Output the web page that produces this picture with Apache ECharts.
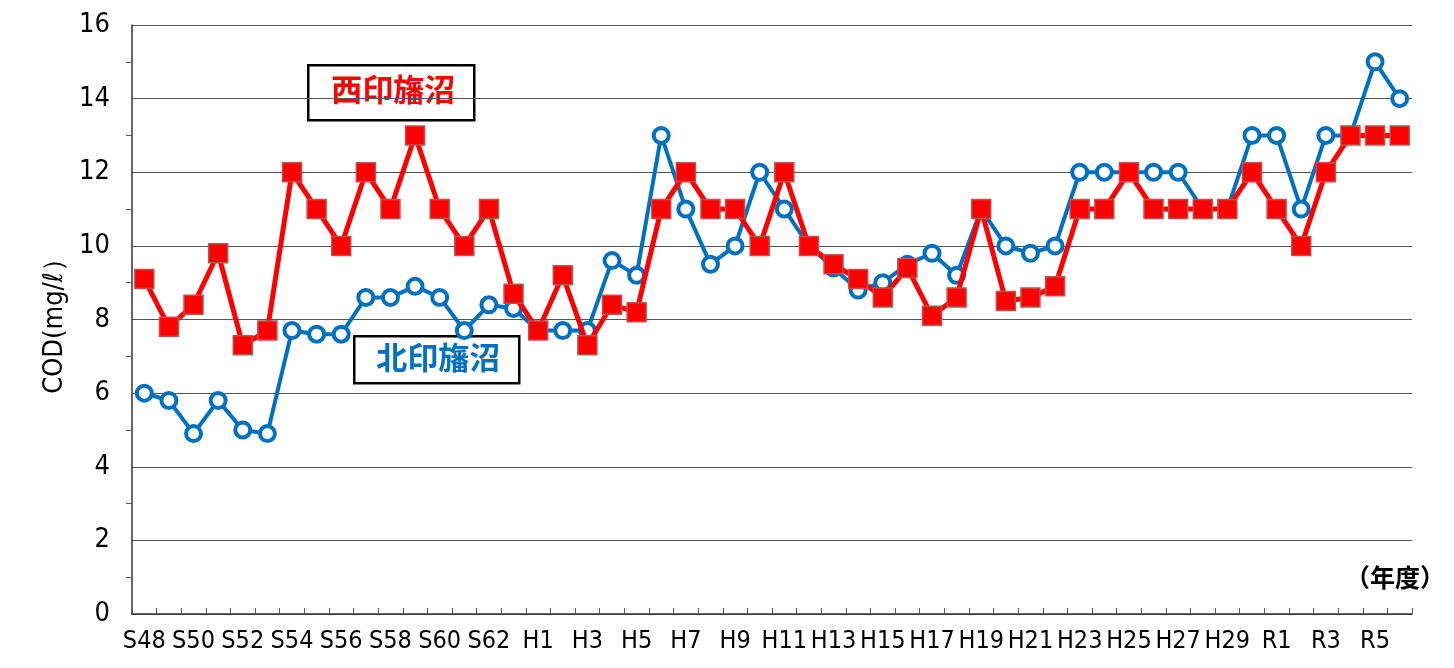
<!DOCTYPE html>
<html>
<head>
<meta charset="utf-8">
<script src="https://cdn.jsdelivr.net/npm/echarts@6/dist/echarts.min.js"></script>
<style>
html, body { margin: 0; padding: 0; background: #fff; }
#main { width: 1454px; height: 668px; }
</style>
</head>
<body>
<div id="main"></div>
<script>
var years = ['S48','S49','S50','S51','S52','S53','S54','S55','S56','S57','S58','S59','S60','S61','S62','S63',
    'H1','H2','H3','H4','H5','H6','H7','H8','H9','H10','H11','H12','H13','H14','H15','H16','H17','H18','H19','H20',
    'H21','H22','H23','H24','H25','H26','H27','H28','H29','H30','R1','R2','R3','R4','R5','R6']
// 西印旛沼
var nishiData = [9.1, 7.8, 8.4, 9.8, 7.3, 7.7, 12, 11, 10, 12, 11, 13, 11, 10, 11, 8.7,
    7.7, 9.2, 7.3, 8.4, 8.2, 11, 12, 11, 11, 10, 12, 10, 9.5, 9.1, 8.6, 9.4, 8.1, 8.6, 11, 8.5,
    8.6, 8.9, 11, 11, 12, 11, 11, 11, 11, 12, 11, 10, 12, 13, 13, 13]
// 北印旛沼
var kitaData = [6.0, 5.8, 4.9, 5.8, 5.0, 4.9, 7.7, 7.6, 7.6, 8.6, 8.6, 8.9, 8.6, 7.7, 8.4, 8.3,
    7.7, 7.7, 7.7, 9.6, 9.2, 13, 11, 9.5, 10, 12, 11, 10, 9.4, 8.8, 9.0, 9.5, 9.8, 9.2, 11, 10,
    9.8, 10, 12, 12, 12, 12, 12, 11, 11, 13, 13, 11, 13, 13, 15, 14]
var yTicks = [0, 2, 4, 6, 8, 10, 12, 14, 16]

// 細めのフォントを探す（MSゴシック風の縦長数字に近づける）
function pickNarrowFont() {
    var ctx = document.createElement('canvas').getContext('2d')
    var s = 'S48 H25 0123456789'
    function w(f) { ctx.font = f; return ctx.measureText(s).width }
    function exists(fam) {
        return w('29px ' + fam + ', monospace') !== w('29px monospace') ||
            w('29px ' + fam + ', serif') !== w('29px serif')
    }
    var names = ["'Liberation Sans Narrow'", "'DejaVu Sans Condensed'", "'Noto Sans Condensed'", "'Noto Sans SemiCondensed'"]
    for (var i = 0; i < names.length; i++) {
        if (exists(names[i])) return { family: names[i], style: 'normal' }
    }
    var fams = ["'Noto Sans'", "'Roboto'", "'Open Sans'", "'DejaVu Sans'"]
    for (var j = 0; j < fams.length; j++) {
        if (exists(fams[j]) && w('condensed 29px ' + fams[j]) < 0.92 * w('29px ' + fams[j])) {
            return { family: fams[j], style: 'condensed' }
        }
    }
    return { family: "'Liberation Sans'", style: 'normal' }
}
var narrow = pickNarrowFont()
var numFont = narrow.family + ", 'Liberation Sans', sans-serif"
var jpFont = "'Noto Sans CJK JP', sans-serif"

var chart = echarts.init(document.getElementById('main'))

var option = {
    backgroundColor: '#fff',
    animation: false,
    grid: { left: 132, top: 25, right: 42, bottom: 54 },
    xAxis: {
        type: 'category',
        data: years,
        boundaryGap: true,
        axisLine: { lineStyle: { color: '#333', width: 1.5 } },
        axisTick: { show: true, inside: true, length: 6, interval: 0, lineStyle: { color: '#555' } },
        axisLabel: {
            interval: 1,
            showMinLabel: true,
            margin: 15,
            color: '#000',
            fontFamily: numFont,
            fontStyle: narrow.style,
            fontSize: 25
        }
    },
    yAxis: {
        type: 'value',
        min: yTicks[0],
        max: yTicks[yTicks.length - 1],
        interval: 2,
        name: 'COD(mg/ℓ）',
        nameLocation: 'middle',
        nameGap: 50,
        nameTextStyle: { color: '#000', fontFamily: numFont, fontStyle: narrow.style, fontSize: 27 },
        axisLine: { show: true, lineStyle: { color: '#333', width: 1.5 } },
        axisTick: { show: false },
        minorTick: { show: true, splitNumber: 2, length: 6, lineStyle: { color: '#555' } },
        axisLabel: {
            margin: 22,
            color: '#000',
            fontFamily: numFont,
            fontStyle: narrow.style,
            fontSize: 27
        },
        splitLine: { show: true, lineStyle: { color: '#555', width: 1 } }
    },
    series: [
        {
            name: '北印旛沼',
            type: 'line',
            data: kitaData,
            symbol: 'circle',
            symbolSize: 15,
            showAllSymbol: true,
            lineStyle: { color: '#0070c0', width: 4 },
            itemStyle: { color: '#fff', borderColor: '#0070c0', borderWidth: 4 },
            z: 2
        },
        {
            name: '西印旛沼',
            type: 'line',
            data: nishiData,
            symbol: 'rect',
            symbolSize: 19,
            showAllSymbol: true,
            lineStyle: { color: '#ff0000', width: 5 },
            itemStyle: { color: '#ff0000', borderColor: '#c0504d', borderWidth: 1.5 },
            z: 3
        }
    ],
    graphic: [
        {
            type: 'group',
            left: 307,
            top: 64,
            z: 10,
            children: [
                { type: 'rect', shape: { x: 0, y: 0, width: 166, height: 55 },
                  style: { fill: '#fff', stroke: '#000', lineWidth: 2.5 } },
                { type: 'text', left: 23, top: 8,
                  style: { text: '西印旛沼', fill: '#ff0000', font: 'bold 31px ' + jpFont } }
            ]
        },
        {
            type: 'group',
            left: 353,
            top: 335,
            z: 10,
            children: [
                { type: 'rect', shape: { x: 0, y: 0, width: 165, height: 47 },
                  style: { fill: '#fff', stroke: '#000', lineWidth: 2.5 } },
                { type: 'text', left: 22, top: 5,
                  style: { text: '北印旛沼', fill: '#0070c0', font: 'bold 31px ' + jpFont } }
            ]
        },
        {
            type: 'text',
            left: 1345,
            top: 565,
            style: { text: '（年度）', fill: '#000', font: 'bold 25px ' + jpFont }
        }
    ]
}

chart.setOption(option)
</script>
</body>
</html>
